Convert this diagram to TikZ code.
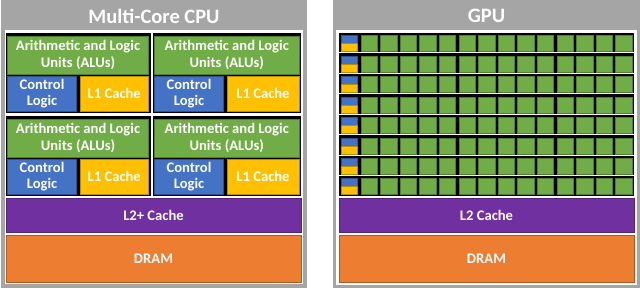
\documentclass[tikz,border=0pt]{standalone}
\usepackage{fontspec}
\setmainfont{Carlito}
\definecolor{hdrgray}{HTML}{A5A5A5}
\definecolor{aluGreen}{HTML}{70AD47}
\definecolor{aluGreenD}{HTML}{507E32}
\definecolor{ctlBlue}{HTML}{4472C4}
\definecolor{ctlBlueD}{HTML}{2F528F}
\definecolor{cacheYellow}{HTML}{FFC000}
\definecolor{cacheYellowD}{HTML}{BC8C00}
\definecolor{ltwoPurple}{HTML}{7030A0}
\definecolor{ltwoPurpleD}{HTML}{55247A}
\definecolor{dramOrange}{HTML}{ED7D31}
\definecolor{dramOrangeD}{HTML}{AE5A21}
\tikzset{
  panelframe/.style={fill=hdrgray},
  panelinner/.style={fill=white},
  corebg/.style={fill=black},
  alubox/.style={fill=aluGreen,draw=aluGreenD,line width=0.7pt},
  ctlbox/.style={fill=ctlBlue,draw=ctlBlueD,line width=0.7pt},
  l1box/.style={fill=cacheYellow,draw=cacheYellowD,line width=0.7pt},
  ltwobox/.style={fill=ltwoPurple,draw=ltwoPurpleD,line width=0.7pt},
  drambox/.style={fill=dramOrange,draw=dramOrangeD,line width=0.7pt},
  gcell/.style={fill=aluGreen,draw=aluGreenD,line width=0.6pt},
  lbl/.style={text=white,font=\bfseries\fontsize{14.6}{16.6}\selectfont,align=center,inner sep=0pt},
  ttl/.style={text=white,font=\bfseries\fontsize{20.5}{24}\selectfont,inner sep=0pt},
}
\newcommand\cpucore[4]{%
  \fill[corebg] (#2,#3) rectangle ++(#4,80);
  \draw[alubox] (#2+2,#3+3) rectangle (#2+#4-2,#3+41)
     node[lbl,pos=.5] (#1alu) {Arithmetic and Logic\\Units (ALUs)};
  \draw[ctlbox] (#2+2,#3+43) rectangle (#2+71,#3+78)
     node[lbl,pos=.5] (#1ctl) {Control\\Logic};
  \draw[l1box] (#2+74.5,#3+43) rectangle (#2+#4-2,#3+78)
     node[lbl,pos=.5] (#1lone) {L1 Cache};
}
\begin{document}
\begin{tikzpicture}[x=1pt,y=-1pt]
\useasboundingbox (0,0) rectangle (640,288);
% CPU panel
\fill[panelframe] (1,0) rectangle (307,288);
\fill[panelinner] (4.5,30.5) rectangle (302.5,284.5);
\node[ttl] (cputitle) at (154,16) {Multi-Core CPU};
\cpucore{a}{5.5}{33}{145}
\cpucore{b}{152.5}{33}{148.5}
\cpucore{c}{5.5}{116}{145}
\cpucore{d}{152.5}{116}{148.5}
\draw[ltwobox] (6,198) rectangle (301,232) node[lbl,pos=.5] (cpultwo) {L2+ Cache};
\draw[drambox] (6,235) rectangle (301,282) node[lbl,pos=.5] (cpudram) {DRAM};
% GPU panel
\fill[panelframe] (333,0) rectangle (640,288);
\fill[panelinner] (336,30.5) rectangle (637,285);
\node[ttl] (gputitle) at (486.5,16) {GPU};
\foreach \i in {0,...,7}{
  \pgfmathsetmacro\ty{33+20.45*\i}
  \fill[corebg] (339,\ty) rectangle (634,\ty+19.5);
  \draw[ctlbox,line width=0.5pt] (341.3,\ty+2.6) rectangle +(16.4,8);
  \draw[l1box,line width=0.5pt] (341.3,\ty+10.6) rectangle +(16.4,8);
  \foreach \j in {1,...,14}{
    \draw[gcell] ({341.3+19.6*\j},\ty+2.6) rectangle +(16.4,16);
  }
}
\draw[ltwobox] (339,198) rectangle (634,232) node[lbl,pos=.5] (gpultwo) {L2 Cache};
\draw[drambox] (339,235) rectangle (634,282) node[lbl,pos=.5] (gpudram) {DRAM};
\end{tikzpicture}
\end{document}
